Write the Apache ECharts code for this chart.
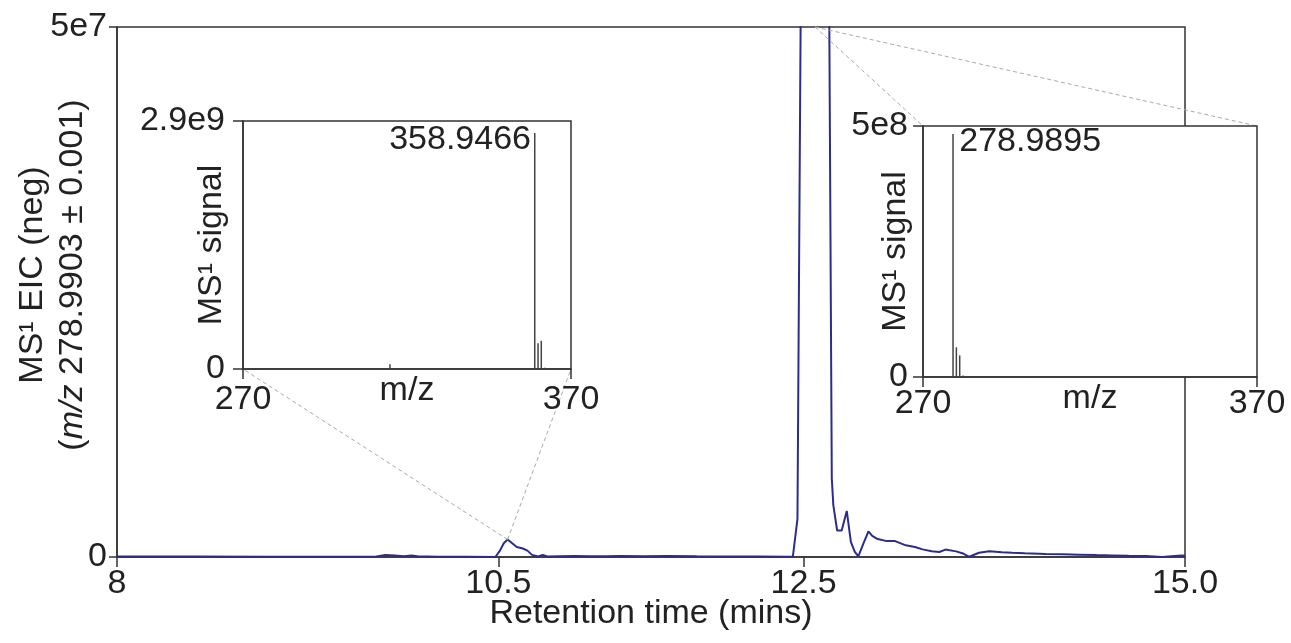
<!DOCTYPE html>
<html><head><meta charset="utf-8">
<script src="https://cdn.jsdelivr.net/npm/echarts@6/dist/echarts.min.js"></script>
<style>html,body{margin:0;padding:0;background:#fff;} #c{width:1291px;height:643px;}</style>
</head><body><div id="c"></div>
<script>
// ---- main extracted ion chromatogram (retention time in min, signal) ----
const eicTime = [8.00, 8.50, 9.00, 9.50, 9.70, 9.76, 9.82, 9.88, 9.93, 9.97, 10.10, 10.30, 10.48,
  10.51, 10.535, 10.56, 10.59, 10.62, 10.66, 10.69, 10.72, 10.76, 10.79, 10.82, 10.90, 11.00, 11.10,
  11.20, 11.30, 11.45, 11.60, 11.80, 12.00, 12.20, 12.40, 12.43, 12.46, 12.485, 12.57, 12.665, 12.685,
  12.695, 12.72, 12.75, 12.783, 12.81, 12.835, 12.859, 12.89, 12.925, 12.95, 12.98, 13.045, 13.10,
  13.17, 13.23, 13.28, 13.34, 13.39, 13.43, 13.50, 13.55, 13.586, 13.65, 13.717, 13.80, 13.867, 13.95,
  14.088, 14.20, 14.306, 14.42, 14.522, 14.63, 14.743, 14.85, 14.93, 14.98, 15.00];
const eicSignal = [0.05e6, 0.05e6, 0.03e6, 0.03e6, 0.05e6, 0.18e6, 0.15e6, 0.08e6, 0.14e6, 0.06e6, 0.03e6, 0.02e6, 0.0,
  0.6e6, 1.3e6, 1.65e6, 1.3e6, 0.95e6, 0.8e6, 0.6e6, 0.2e6, 0.05e6, 0.2e6, 0.05e6, 0.08e6, 0.1e6, 0.06e6,
  0.08e6, 0.1e6, 0.06e6, 0.1e6, 0.06e6, 0.05e6, 0.04e6, 0.03e6, 0.05e6, 3.6e6, 6.0e7, 2.5e8, 6.0e7, 7.4e6,
  4.9e6, 2.5e6, 2.5e6, 4.35e6, 1.42e6, 0.5e6, 0.05e6, 1.2e6, 2.42e6, 2.0e6, 1.73e6, 1.5e6, 1.5e6,
  1.1e6, 0.95e6, 0.72e6, 0.55e6, 0.47e6, 0.7e6, 0.53e6, 0.3e6, 0.02e6, 0.4e6, 0.55e6, 0.45e6, 0.4e6, 0.35e6,
  0.28e6, 0.25e6, 0.22e6, 0.18e6, 0.15e6, 0.12e6, 0.1e6, 0.0, 0.1e6, 0.15e6, 0.12e6];
const mainXTicks = [8, 10.5, 12.5, 15];
const mainXLabels = ['8', '10.5', '12.5', '15.0'];
const mainYTicks = [0, 5e7];
const mainYLabels = ['0', '5e7'];

// ---- inset A: MS1 spectrum at ~10.56 min ----
const specAMz = [274.9, 314.8, 358.9466, 359.95, 360.94, 362.0];
const specAInt = [0.012e9, 0.055e9, 2.76e9, 0.30e9, 0.33e9, 0.015e9];
const specALabel = '358.9466';
const specAYTicks = [0, 2.9e9];
const specAYLabels = ['0', '2.9e9'];

// ---- inset B: MS1 spectrum at ~12.57 min ----
const specBMz = [278.9895, 279.99, 280.99, 281.99, 283.0, 301.0, 312.0, 315.0, 343.0, 359.0];
const specBInt = [4.84e8, 0.59e8, 0.43e8, 0.03e8, 0.02e8, 0.01e8, 0.015e8, 0.02e8, 0.01e8, 0.01e8];
const specBLabel = '278.9895';
const specBYTicks = [0, 5e8];
const specBYLabels = ['0', '5e8'];

const mzTicks = [270, 370];
const mzLabels = ['270', '370'];

// points of the chromatogram that each inset zooms into
const leaderA = [10.56, 1.65e6];
const leaderB = [12.575, 5e7];

const FONT = 'Liberation Sans';
const TXT = '#222';
const AX = '#333';
const FS = 34;

function lab(ticks, labels) { return v => { const i = ticks.indexOf(v); return i >= 0 ? labels[i] : ''; }; }

const chart = echarts.init(document.getElementById('c'), null, {renderer: 'canvas'});

function axisCommon(z) {
  return {
    z: z,
    nameMoveOverlap: false,
    axisLine: {show: true, lineStyle: {color: AX, width: 1.5}},
    splitLine: {show: false},
  };
}

const gridCommon = {show: true, borderColor: AX, borderWidth: 1.5, containLabel: false, outerBoundsMode: 'none'};

const option = {
  animation: false,
  backgroundColor: '#fff',
  textStyle: {fontFamily: FONT},
  grid: [
    Object.assign({left: 117, top: 27, width: 1068, height: 530, backgroundColor: 'transparent', z: 0}, gridCommon),
    Object.assign({left: 243, top: 121, width: 328, height: 248, backgroundColor: '#fff', z: 10}, gridCommon),
    Object.assign({left: 923, top: 126, width: 334, height: 251, backgroundColor: '#fff', z: 10}, gridCommon)
  ],
  xAxis: [
    Object.assign(axisCommon(1), {
      gridIndex: 0, type: 'value', min: 8, max: 15,
      name: 'Retention time (mins)', nameLocation: 'middle', nameGap: 40,
      nameTextStyle: {fontFamily: FONT, fontSize: FS, color: TXT},
      axisTick: {show: true, customValues: mainXTicks, length: 10, lineStyle: {color: AX, width: 1.5}},
      axisLabel: {customValues: mainXTicks, formatter: lab(mainXTicks, mainXLabels), fontFamily: FONT, fontSize: FS, color: TXT, margin: 10}
    }),
    Object.assign(axisCommon(11), {
      gridIndex: 1, type: 'value', min: 270, max: 370,
      name: 'm/z', nameLocation: 'middle', nameGap: 5,
      nameTextStyle: {fontFamily: FONT, fontSize: FS, color: TXT},
      axisTick: {show: true, customValues: mzTicks, length: 10, lineStyle: {color: AX, width: 1.5}},
      axisLabel: {customValues: mzTicks, formatter: lab(mzTicks, mzLabels), fontFamily: FONT, fontSize: FS, color: TXT, margin: 14}
    }),
    Object.assign(axisCommon(11), {
      gridIndex: 2, type: 'value', min: 270, max: 370,
      name: 'm/z', nameLocation: 'middle', nameGap: 5,
      nameTextStyle: {fontFamily: FONT, fontSize: FS, color: TXT},
      axisTick: {show: true, customValues: mzTicks, length: 10, lineStyle: {color: AX, width: 1.5}},
      axisLabel: {customValues: mzTicks, formatter: lab(mzTicks, mzLabels), fontFamily: FONT, fontSize: FS, color: TXT, margin: 10}
    })
  ],
  yAxis: [
    Object.assign(axisCommon(1), {
      gridIndex: 0, type: 'value', min: 0, max: 5e7,
      name: '{a|MS¹ EIC (neg)}\n{b|(}{i|m/z}{b| 278.9903 ± 0.001)}',
      nameLocation: 'middle', nameRotate: 90, nameGap: 24,
      nameTextStyle: {fontFamily: FONT, fontSize: FS, color: TXT, lineHeight: 40, align: 'center', padding: [0, 0, 0, 34],
        rich: {a: {fontFamily: FONT, fontSize: FS, color: TXT, lineHeight: 40},
               b: {fontFamily: FONT, fontSize: FS, color: TXT, lineHeight: 40},
               i: {fontFamily: FONT, fontSize: FS, color: TXT, lineHeight: 40, fontStyle: 'italic'}}},
      axisTick: {show: true, customValues: mainYTicks, length: 8, lineStyle: {color: AX, width: 1.5}},
      axisLabel: {customValues: mainYTicks, formatter: lab(mainYTicks, mainYLabels), fontFamily: FONT, fontSize: FS, color: TXT, margin: 10}
    }),
    Object.assign(axisCommon(11), {
      gridIndex: 1, type: 'value', min: 0, max: 2.9e9,
      name: 'MS¹ signal', nameLocation: 'middle', nameRotate: 90, nameGap: 14,
      nameTextStyle: {fontFamily: FONT, fontSize: FS, color: TXT},
      axisTick: {show: true, customValues: specAYTicks, length: 10, lineStyle: {color: AX, width: 1.5}},
      axisLabel: {customValues: specAYTicks, formatter: lab(specAYTicks, specAYLabels), fontFamily: FONT, fontSize: FS, color: TXT, margin: 18}
    }),
    Object.assign(axisCommon(11), {
      gridIndex: 2, type: 'value', min: 0, max: 5e8,
      name: 'MS¹ signal', nameLocation: 'middle', nameRotate: 90, nameGap: 10,
      nameTextStyle: {fontFamily: FONT, fontSize: FS, color: TXT},
      axisTick: {show: true, customValues: specBYTicks, length: 10, lineStyle: {color: AX, width: 1.5}},
      axisLabel: {customValues: specBYTicks, formatter: lab(specBYTicks, specBYLabels), fontFamily: FONT, fontSize: FS, color: TXT, margin: 15}
    })
  ],
  series: [
    {
      type: 'line', xAxisIndex: 0, yAxisIndex: 0, z: 2, clip: true,
      showSymbol: false, symbol: 'none',
      lineStyle: {color: '#2b2d8c', width: 2},
      data: eicTime.map((t, i) => [t, eicSignal[i]])
    },
    {
      type: 'bar', xAxisIndex: 1, yAxisIndex: 1, z: 12, barWidth: 1.5,
      itemStyle: {color: '#444'},
      data: specAMz.map((m, i) => {
        const d = {value: [m, specAInt[i]]};
        if (String(m) === specALabel) d.label = {show: true, formatter: specALabel, position: [-3, -10], align: 'right', verticalAlign: 'top', fontFamily: FONT, fontSize: FS, color: TXT};
        return d;
      })
    },
    {
      type: 'bar', xAxisIndex: 2, yAxisIndex: 2, z: 12, barWidth: 1.5,
      itemStyle: {color: '#444'},
      data: specBMz.map((m, i) => {
        const d = {value: [m, specBInt[i]]};
        if (String(m) === specBLabel) d.label = {show: true, formatter: specBLabel, position: [7, -9], align: 'left', verticalAlign: 'top', fontFamily: FONT, fontSize: FS, color: TXT};
        return d;
      })
    }
  ]
};
chart.setOption(option);

// dashed leader lines from the chromatogram to the insets, located through the axes
const pA = chart.convertToPixel({xAxisIndex: 0, yAxisIndex: 0}, leaderA);
const pB = chart.convertToPixel({xAxisIndex: 0, yAxisIndex: 0}, leaderB);
const aL = chart.convertToPixel({xAxisIndex: 1, yAxisIndex: 1}, [270, 0]);
const aR = chart.convertToPixel({xAxisIndex: 1, yAxisIndex: 1}, [370, 0]);
const bL = chart.convertToPixel({xAxisIndex: 2, yAxisIndex: 2}, [270, 5e8]);
const bR = chart.convertToPixel({xAxisIndex: 2, yAxisIndex: 2}, [370, 5e8]);
const dash = {stroke: '#aaa', lineWidth: 1, lineDash: [4, 3]};
function seg(p, q) { return {type: 'line', z: 5, silent: true, shape: {x1: p[0], y1: p[1], x2: q[0], y2: q[1]}, style: dash}; }
chart.setOption({graphic: [seg(pA, aL), seg(pA, aR), seg(pB, bL), seg(pB, bR)]});
</script>
</body></html>
